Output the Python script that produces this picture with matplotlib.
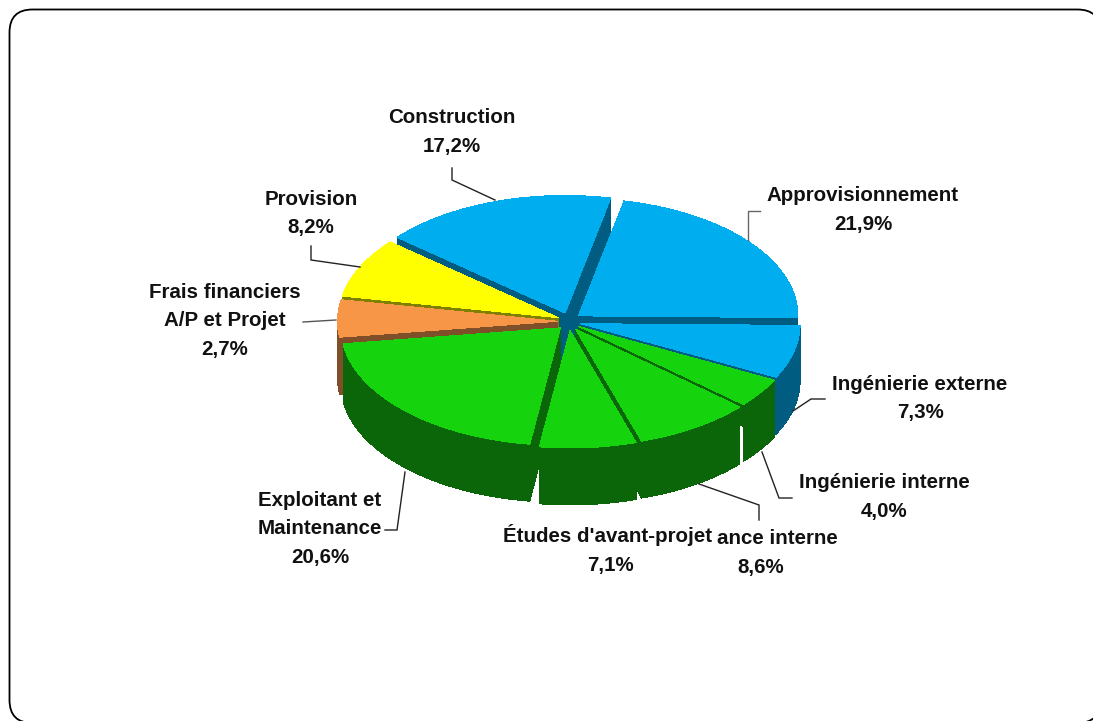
#!/usr/bin/env python3
"""Cost breakdown as an exploded pseudo-3D pie, drawn with plain polygons."""
import numpy as np
import matplotlib
matplotlib.use("Agg")
import matplotlib.pyplot as plt
from matplotlib.patches import FancyBboxPatch, Polygon

# the 2.4 share has no label of its own, it shares the orange wedge
categories = ["Approvisionnement", "Ingénierie externe", "Ingénierie interne",
              "Assistance interne", "Études d'avant-projet", "Exploitant et Maintenance",
              "Frais financiers A/P et Projet", "", "Provision", "Construction"]
shares = [21.9, 7.3, 4.0, 8.6, 7.1, 20.6, 2.7, 2.4, 8.2, 17.2]
groups = [0, 1, 2, 3, 4, 5, 6, 6, 7, 8]

BLUE = ("#00aeef", "#005c80")
GREEN = ("#15d30c", "#0b6609")
ORANGE = ("#f79646", "#7f4f2a")
YELLOW = ("#ffff00", "#808000")
colors = [BLUE, BLUE, GREEN, GREEN, GREEN, GREEN, ORANGE, ORANGE, YELLOW, BLUE]

labels = [
    ("Construction\n17,2%", 452, 132),
    ("Provision\n8,2%", 311, 213.5),
    ("Frais financiers\nA/P et Projet\n2,7%", 225, 321),
    ("Approvisionnement\n21,9%", 863, 210),
    ("Ingénierie externe\n7,3%", 920, 398.5),
    ("Ingénierie interne\n4,0%", 884, 497),
    ("ance interne", 777, 538),
    ("8,6%", 761, 568),
    ("Études d'avant-projet", 608, 535),
    ("7,1%", 610, 565),
    ("Exploitant et\nMaintenance\n20,6%", 320, 529),
]
leaders = [
    ([452, 452, 495], [168, 180, 200], "#222222"),
    ([311, 311, 360], [246, 260, 267], "#222222"),
    ([303, 336], [322, 320], "#555555"),
    ([760, 748, 748], [211, 211, 240], "#666666"),
    ([825, 811, 793], [399, 399, 411], "#222222"),
    ([792, 779, 762], [498, 498, 452], "#222222"),
    ([759, 759, 699], [520, 505, 484], "#222222"),
    ([385, 397, 405], [530, 530, 472], "#222222"),
]

CX, CY = 569, 321.5
RX, RY = 219.5, 117.5
DEPTH = 57
EXPLODE_X, EXPLODE_Y = 12, 9
START = 12.0
SHORT_CUT = {2: 22}  # group whose end face stops short of the full depth


def ellipse(theta, ox, oy):
    t = np.radians(theta)
    return np.column_stack([ox + RX * np.sin(t), oy - RY * np.cos(t)])


def flat(ax, pts, color):
    ax.add_patch(Polygon(pts, fc=color, ec="none", lw=0, antialiased=False))


def cut_face(ax, apex, edge, side, depth=DEPTH):
    flat(ax, [apex, edge, edge + [0, depth], apex + [0, depth]], side)


def draw_wedge(ax, group, ox, oy, parts):
    """One exploded wedge; parts are the (a0, a1, colours) shares it is made of."""
    apex = np.array([ox, oy])
    first, last = parts[0][0], parts[-1][1]
    arcs = [ellipse(np.linspace(a0, a1, 80), ox, oy) for a0, a1, _ in parts]

    # outer rim, then whichever cut faces point towards the viewer
    for arc, (_, _, (top, side)) in zip(arcs, parts):
        flat(ax, np.vstack([arc, arc[::-1] + [0, DEPTH]]), side)
    if np.sin(np.radians(last)) > 0:
        cut_face(ax, apex, arcs[-1][-1], parts[-1][2][1], SHORT_CUT.get(group, DEPTH))
    if np.sin(np.radians(first)) < 0:
        cut_face(ax, apex, arcs[0][0], parts[0][2][1])
    for arc, (_, _, (top, side)) in zip(arcs, parts):
        flat(ax, np.vstack([apex, arc]), top)


def main():
    fig = plt.figure(figsize=(10.93, 7.21), dpi=100)
    ax = fig.add_axes([0, 0, 1, 1])
    ax.set_xlim(0, 1093)
    ax.set_ylim(721, 0)
    ax.axis("off")

    ax.add_patch(FancyBboxPatch((32.5, 32.5), 1045, 667.5,
                                boxstyle="round,pad=23,rounding_size=23",
                                fc="white", ec="black", lw=1.3, clip_on=True))

    edges = START + np.cumsum([0] + shares) * 3.6
    wedges = []
    for g in sorted(set(groups)):
        idx = [i for i, x in enumerate(groups) if x == g]
        mid = np.radians((edges[idx[0]] + edges[idx[-1] + 1]) / 2)
        ox = CX + EXPLODE_X * np.sin(mid)
        oy = CY - EXPLODE_Y * np.cos(mid)
        parts = [(edges[i], edges[i + 1], colors[i]) for i in idx]
        wedges.append((np.cos(mid), g, ox, oy, parts))

    # back to front so nearer wedges cover the walls behind them
    for _, g, ox, oy, parts in sorted(wedges, key=lambda w: -w[0]):
        draw_wedge(ax, g, ox, oy, parts)

    for xs, ys, c in leaders:
        ax.plot(xs, ys, color=c, lw=1.0, solid_joinstyle="miter")

    for text, x, y in labels:
        ax.text(x, y, text, ha="center", va="center", fontsize=14.8, fontweight="bold",
                family="Liberation Sans", linespacing=1.65, color="#111111")

    fig.savefig("out.png", dpi=100)
    plt.close(fig)


if __name__ == "__main__":
    main()
